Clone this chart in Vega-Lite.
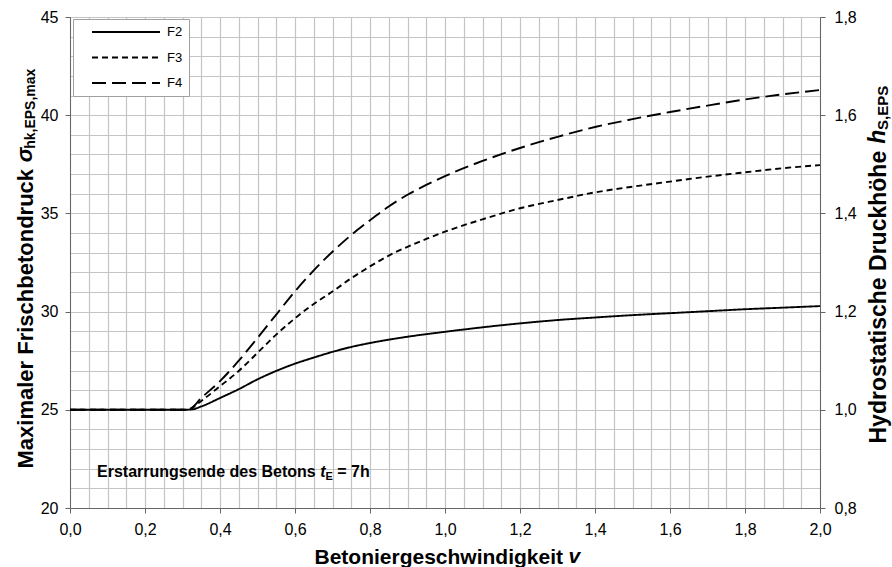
{
  "$schema": "https://vega.github.io/schema/vega-lite/v6.json",
  "width": 750,
  "height": 491,
  "autosize": {"type": "none"},
  "padding": {"left": 70, "top": 17, "right": 72, "bottom": 59},
  "background": "white",
  "config": {"view": {"stroke": null}, "font": "Liberation Sans"},
  "datasets": {
    "curves": [
      {"v": 0, "s": "F2", "p": 25}, {"v": 0.1, "s": "F2", "p": 25}, {"v": 0.2, "s": "F2", "p": 25}, {"v": 0.3, "s": "F2", "p": 25},
      {"v": 0.325, "s": "F2", "p": 25.02}, {"v": 0.35, "s": "F2", "p": 25.17}, {"v": 0.4, "s": "F2", "p": 25.6}, {"v": 0.45, "s": "F2", "p": 26.05},
      {"v": 0.5, "s": "F2", "p": 26.55}, {"v": 0.55, "s": "F2", "p": 26.98}, {"v": 0.6, "s": "F2", "p": 27.35}, {"v": 0.65, "s": "F2", "p": 27.66},
      {"v": 0.7, "s": "F2", "p": 27.95}, {"v": 0.75, "s": "F2", "p": 28.2}, {"v": 0.8, "s": "F2", "p": 28.4}, {"v": 0.9, "s": "F2", "p": 28.72},
      {"v": 1.0, "s": "F2", "p": 28.97}, {"v": 1.1, "s": "F2", "p": 29.2}, {"v": 1.2, "s": "F2", "p": 29.4}, {"v": 1.3, "s": "F2", "p": 29.57},
      {"v": 1.4, "s": "F2", "p": 29.7}, {"v": 1.5, "s": "F2", "p": 29.82}, {"v": 1.6, "s": "F2", "p": 29.92}, {"v": 1.7, "s": "F2", "p": 30.02},
      {"v": 1.8, "s": "F2", "p": 30.12}, {"v": 1.9, "s": "F2", "p": 30.2}, {"v": 2.0, "s": "F2", "p": 30.28},

      {"v": 0, "s": "F3", "p": 25}, {"v": 0.1, "s": "F3", "p": 25}, {"v": 0.2, "s": "F3", "p": 25}, {"v": 0.3, "s": "F3", "p": 25},
      {"v": 0.32, "s": "F3", "p": 25.05}, {"v": 0.35, "s": "F3", "p": 25.45}, {"v": 0.4, "s": "F3", "p": 26.2}, {"v": 0.45, "s": "F3", "p": 26.98},
      {"v": 0.5, "s": "F3", "p": 27.9}, {"v": 0.55, "s": "F3", "p": 28.83}, {"v": 0.6, "s": "F3", "p": 29.66}, {"v": 0.65, "s": "F3", "p": 30.39},
      {"v": 0.7, "s": "F3", "p": 31.02}, {"v": 0.75, "s": "F3", "p": 31.7}, {"v": 0.8, "s": "F3", "p": 32.3}, {"v": 0.85, "s": "F3", "p": 32.85},
      {"v": 0.9, "s": "F3", "p": 33.3}, {"v": 0.95, "s": "F3", "p": 33.7}, {"v": 1.0, "s": "F3", "p": 34.07}, {"v": 1.1, "s": "F3", "p": 34.7},
      {"v": 1.2, "s": "F3", "p": 35.26}, {"v": 1.3, "s": "F3", "p": 35.68}, {"v": 1.4, "s": "F3", "p": 36.07}, {"v": 1.5, "s": "F3", "p": 36.36},
      {"v": 1.6, "s": "F3", "p": 36.62}, {"v": 1.7, "s": "F3", "p": 36.87}, {"v": 1.8, "s": "F3", "p": 37.09}, {"v": 1.9, "s": "F3", "p": 37.3},
      {"v": 2.0, "s": "F3", "p": 37.46},

      {"v": 0, "s": "F4", "p": 25}, {"v": 0.1, "s": "F4", "p": 25}, {"v": 0.2, "s": "F4", "p": 25}, {"v": 0.3, "s": "F4", "p": 25},
      {"v": 0.32, "s": "F4", "p": 25.05}, {"v": 0.35, "s": "F4", "p": 25.6}, {"v": 0.4, "s": "F4", "p": 26.46}, {"v": 0.45, "s": "F4", "p": 27.5},
      {"v": 0.5, "s": "F4", "p": 28.66}, {"v": 0.55, "s": "F4", "p": 29.85}, {"v": 0.6, "s": "F4", "p": 31.03}, {"v": 0.65, "s": "F4", "p": 32.1},
      {"v": 0.7, "s": "F4", "p": 33.05}, {"v": 0.75, "s": "F4", "p": 33.9}, {"v": 0.8, "s": "F4", "p": 34.65}, {"v": 0.85, "s": "F4", "p": 35.35},
      {"v": 0.9, "s": "F4", "p": 35.95}, {"v": 0.95, "s": "F4", "p": 36.45}, {"v": 1.0, "s": "F4", "p": 36.9}, {"v": 1.1, "s": "F4", "p": 37.67},
      {"v": 1.2, "s": "F4", "p": 38.33}, {"v": 1.3, "s": "F4", "p": 38.9}, {"v": 1.4, "s": "F4", "p": 39.4}, {"v": 1.5, "s": "F4", "p": 39.8},
      {"v": 1.6, "s": "F4", "p": 40.16}, {"v": 1.7, "s": "F4", "p": 40.49}, {"v": 1.8, "s": "F4", "p": 40.8}, {"v": 1.9, "s": "F4", "p": 41.06},
      {"v": 2.0, "s": "F4", "p": 41.28}
    ]
  },
  "layer": [
    {
      "layer": [
        {
          "data": {"name": "curves"},
          "mark": {"type": "line", "color": "black", "strokeWidth": 1.9, "interpolate": "monotone"},
          "encoding": {
            "x": {"field": "v", "type": "quantitative",
              "scale": {"domain": [0, 2], "nice": false, "zero": false},
              "axis": {"orient": "bottom", "values": [0,0.05,0.1,0.15,0.2,0.25,0.3,0.35,0.4,0.45,0.5,0.55,0.6,0.65,0.7,0.75,0.8,0.85,0.9,0.95,1,1.05,1.1,1.15,1.2,1.25,1.3,1.35,1.4,1.45,1.5,1.55,1.6,1.65,1.7,1.75,1.8,1.85,1.9,1.95,2],
                "labels": false, "ticks": false, "domain": false, "title": null, "grid": true, "gridColor": "#c4c4c4", "gridWidth": 1.2}},
            "y": {"field": "p", "type": "quantitative",
              "scale": {"domain": [20, 45], "nice": false, "zero": false},
              "axis": {"orient": "left", "values": [20,21,22,23,24,25,26,27,28,29,30,31,32,33,34,35,36,37,38,39,40,41,42,43,44,45],
                "labels": false, "ticks": false, "domain": false, "title": null, "grid": true, "gridColor": "#c4c4c4", "gridWidth": 1.2}},
            "strokeDash": {"field": "s", "type": "nominal",
              "scale": {"domain": ["F2", "F3", "F4"], "range": [[1, 0], [6, 4], [14, 6]]},
              "legend": {"orient": "none", "legendX": 3, "legendY": 2, "title": null,
                "symbolType": "stroke", "symbolSize": 4624, "symbolStrokeWidth": 2, "symbolStrokeColor": "black",
                "clipHeight": 14, "symbolOffset": 12, "labelOffset": 6, "labelFontSize": 13, "labelFont": "Liberation Sans", "labelColor": "black",
                "padding": 6, "rowPadding": 11.5, "strokeColor": "#a0a0a0", "fillColor": "white"}}
          }
        },
        {
          "data": {"values": [{}]},
          "mark": {"type": "point", "opacity": 0},
          "encoding": {
            "x": {"datum": 0, "type": "quantitative",
              "scale": {"domain": [0, 2], "nice": false, "zero": false},
              "axis": {"orient": "bottom", "values": [0,0.2,0.4,0.6,0.8,1,1.2,1.4,1.6,1.8,2], "labelExpr": "replace(format(datum.value, '.1f'), '.', ',')",
                "grid": false, "labelFlush": false, "tickSize": 5, "tickColor": "#666", "domainColor": "#666",
                "labelFontSize": 16, "labelColor": "#000", "labelPadding": 8, "labelFont": "Liberation Sans",
                "title": "Betoniergeschwindigkeit", "titleFont": "Liberation Sans", "titleFontSize": 21, "titleFontWeight": "bold", "titleColor": "#000",
                "titleAlign": "left", "titleBaseline": "alphabetic", "titleX": 244, "titleY": 55}},
            "y": {"datum": 20, "type": "quantitative",
              "scale": {"domain": [20, 45], "nice": false, "zero": false},
              "axis": {"orient": "left", "values": [20,25,30,35,40,45], "format": "d",
                "grid": false, "tickSize": 5, "tickColor": "#666", "domainColor": "#666",
                "labelFontSize": 16, "labelColor": "#000", "labelPadding": 7, "labelFont": "Liberation Sans",
                "title": "Maximaler Frischbetondruck", "titleFont": "Liberation Sans", "titleFontSize": 22, "titleFontWeight": "bold", "titleColor": "#000",
                "titleAngle": 270, "titleAlign": "left", "titleBaseline": "alphabetic", "titleX": -38, "titleY": 451}}
          }
        },
        {
          "data": {"values": [{}]},
          "mark": {"type": "text", "text": "σ", "font": "Liberation Sans", "fontSize": 22, "fontWeight": "bold", "fontStyle": "italic", "angle": 270, "align": "left", "baseline": "alphabetic", "color": "black"},
          "encoding": {"x": {"datum": -0.1013, "type": "quantitative", "scale": {"domain": [0, 2], "nice": false, "zero": false}, "axis": null},
                       "y": {"datum": 37.6, "type": "quantitative", "scale": {"domain": [20, 45], "nice": false, "zero": false}, "axis": null}}
        },
        {
          "data": {"values": [{}]},
          "mark": {"type": "text", "text": "hk,EPS,max", "font": "Liberation Sans", "fontSize": 14, "fontWeight": "bold", "angle": 270, "align": "left", "baseline": "alphabetic", "color": "black"},
          "encoding": {"x": {"datum": -0.0933, "type": "quantitative", "scale": {"domain": [0, 2], "nice": false, "zero": false}, "axis": null},
                       "y": {"datum": 38.29, "type": "quantitative", "scale": {"domain": [20, 45], "nice": false, "zero": false}, "axis": null}}
        },
        {
          "data": {"values": [{}]},
          "mark": {"type": "text", "text": "h", "font": "Liberation Sans", "fontSize": 23, "fontWeight": "bold", "fontStyle": "italic", "angle": 270, "align": "left", "baseline": "alphabetic", "color": "black"},
          "encoding": {"x": {"datum": 2.1733, "type": "quantitative", "scale": {"domain": [0, 2], "nice": false, "zero": false}, "axis": null},
                       "y": {"datum": 38.54, "type": "quantitative", "scale": {"domain": [20, 45], "nice": false, "zero": false}, "axis": null}}
        },
        {
          "data": {"values": [{}]},
          "mark": {"type": "text", "text": "S,EPS", "font": "Liberation Sans", "fontSize": 15, "fontWeight": "bold", "angle": 270, "align": "left", "baseline": "alphabetic", "color": "black"},
          "encoding": {"x": {"datum": 2.1813, "type": "quantitative", "scale": {"domain": [0, 2], "nice": false, "zero": false}, "axis": null},
                       "y": {"datum": 39.25, "type": "quantitative", "scale": {"domain": [20, 45], "nice": false, "zero": false}, "axis": null}}
        },
        {
          "data": {"values": [{}]},
          "mark": {"type": "text", "text": "v", "font": "Liberation Sans", "fontSize": 21, "fontWeight": "bold", "fontStyle": "italic", "align": "left", "baseline": "alphabetic", "color": "black"},
          "encoding": {"x": {"datum": 1.3291, "type": "quantitative", "scale": {"domain": [0, 2], "nice": false, "zero": false}, "axis": null},
                       "y": {"datum": 17.2, "type": "quantitative", "scale": {"domain": [20, 45], "nice": false, "zero": false}, "axis": null}}
        },
        {
          "data": {"values": [{}]},
          "mark": {"type": "text", "text": "Erstarrungsende des Betons", "font": "Liberation Sans", "fontSize": 16, "fontWeight": "bold", "align": "left", "baseline": "alphabetic", "color": "black"},
          "encoding": {"x": {"datum": 0.072, "type": "quantitative", "scale": {"domain": [0, 2], "nice": false, "zero": false}, "axis": null},
                       "y": {"datum": 21.58, "type": "quantitative", "scale": {"domain": [20, 45], "nice": false, "zero": false}, "axis": null}}
        },
        {
          "data": {"values": [{}]},
          "mark": {"type": "text", "text": "t", "font": "Liberation Sans", "fontSize": 16, "fontWeight": "bold", "fontStyle": "italic", "align": "left", "baseline": "alphabetic", "color": "black"},
          "encoding": {"x": {"datum": 0.6672, "type": "quantitative", "scale": {"domain": [0, 2], "nice": false, "zero": false}, "axis": null},
                       "y": {"datum": 21.58, "type": "quantitative", "scale": {"domain": [20, 45], "nice": false, "zero": false}, "axis": null}}
        },
        {
          "data": {"values": [{}]},
          "mark": {"type": "text", "text": "E", "font": "Liberation Sans", "fontSize": 11, "fontWeight": "bold", "align": "left", "baseline": "alphabetic", "color": "black"},
          "encoding": {"x": {"datum": 0.6813, "type": "quantitative", "scale": {"domain": [0, 2], "nice": false, "zero": false}, "axis": null},
                       "y": {"datum": 21.43, "type": "quantitative", "scale": {"domain": [20, 45], "nice": false, "zero": false}, "axis": null}}
        },
        {
          "data": {"values": [{}]},
          "mark": {"type": "text", "text": "= 7h", "font": "Liberation Sans", "fontSize": 16, "fontWeight": "bold", "align": "left", "baseline": "alphabetic", "color": "black"},
          "encoding": {"x": {"datum": 0.7125, "type": "quantitative", "scale": {"domain": [0, 2], "nice": false, "zero": false}, "axis": null},
                       "y": {"datum": 21.58, "type": "quantitative", "scale": {"domain": [20, 45], "nice": false, "zero": false}, "axis": null}}
        }
      ],
      "resolve": {"axis": {"x": "independent", "y": "independent"}}
    },
    {
      "data": {"values": [{}]},
      "mark": {"type": "point", "opacity": 0},
      "encoding": {
        "y": {"datum": 1, "type": "quantitative",
          "scale": {"domain": [0.8, 1.8], "nice": false, "zero": false},
          "axis": {"orient": "right", "values": [0.8,1.0,1.2,1.4,1.6,1.8], "labelExpr": "replace(format(datum.value, '.1f'), '.', ',')",
            "grid": false, "tickSize": 5, "tickColor": "#666", "domainColor": "#666",
            "labelFontSize": 16, "labelColor": "#000", "labelPadding": 9, "labelFont": "Liberation Sans",
            "title": "Hydrostatische Druckhöhe", "titleFont": "Liberation Sans", "titleFontSize": 23, "titleFontWeight": "bold", "titleColor": "#000",
            "titleAngle": 270, "titleAlign": "left", "titleBaseline": "alphabetic", "titleX": 65, "titleY": 426}}
      }
    }
  ],
  "resolve": {"scale": {"y": "independent"}, "axis": {"y": "independent"}}
}
